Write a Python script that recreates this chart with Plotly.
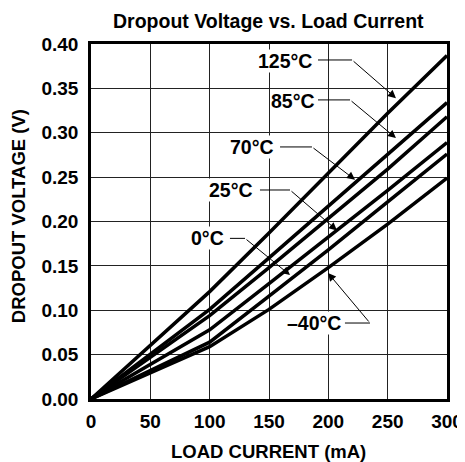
import plotly.graph_objects as go

load_current = [0, 100, 150, 200, 250, 300]
temps = ["125°C", "85°C", "70°C", "25°C", "0°C", "–40°C"]
v_125 = [0, 0.121, 0.187, 0.254, 0.322, 0.387]
v_85 = [0, 0.101, 0.159, 0.217, 0.275, 0.334]
v_70 = [0, 0.094, 0.148, 0.203, 0.259, 0.318]
v_25 = [0, 0.078, 0.130, 0.182, 0.235, 0.289]
v_0 = [0, 0.064, 0.116, 0.168, 0.222, 0.276]
v_m40 = [0, 0.059, 0.101, 0.148, 0.197, 0.249]
series = [v_125, v_85, v_70, v_25, v_0, v_m40]

x_ticks = [0, 50, 100, 150, 200, 250, 300]
y_ticks = [0.00, 0.05, 0.10, 0.15, 0.20, 0.25, 0.30, 0.35, 0.40]

# label positions (data coords): text centre, leader start, elbow, arrow tip
label_text_xy = [(163.5, 0.381), (170, 0.336), (136, 0.284), (118, 0.2355), (98.2, 0.181), (187.5, 0.0856)]
leader_pts = [
    [(191.3, 0.382), (220, 0.382), (257, 0.339)],
    [(191.3, 0.337), (218.3, 0.337), (257, 0.294)],
    [(159.3, 0.284), (186.2, 0.284), (222.5, 0.247)],
    [(142.4, 0.2355), (167.7, 0.2355), (207.3, 0.190)],
    [(117.1, 0.181), (129.8, 0.181), (167.7, 0.1397)],
    [(214, 0.0856), (235.1, 0.0856), (199.7, 0.142)],
]

FONT = "Liberation Sans, Arial, sans-serif"
def bold(size):
    return dict(family=FONT, size=size, color="black", weight="bold")

fig = go.Figure()
for name, vals in zip(temps, series):
    fig.add_trace(go.Scatter(x=load_current, y=vals, mode="lines", name=name,
                             line=dict(color="black", width=3.5), showlegend=False,
                             hoverinfo="skip"))

for (tx, ty), pts, txt in zip(label_text_xy, leader_pts, temps):
    fig.add_annotation(x=tx, y=ty, text=txt, showarrow=False, xref="x", yref="y",
                       font=bold(19.5), bgcolor="white", borderpad=0)
    (x0, y0), (x1, y1), (x2, y2) = pts
    fig.add_shape(type="line", x0=x0, y0=y0, x1=x1, y1=y1, xref="x", yref="y",
                  line=dict(color="black", width=1))
    fig.add_annotation(x=x2, y=y2, ax=x1, ay=y1, axref="x", ayref="y", xref="x", yref="y",
                       text="", showarrow=True, arrowhead=2, arrowsize=1.6,
                       arrowwidth=1, arrowcolor="black", standoff=0)

# titles
fig.add_annotation(text="Dropout Voltage vs. Load Current", xref="paper", yref="paper",
                   x=0.4986, y=1.065, showarrow=False, font=bold(19.5),
                   xanchor="center", yanchor="middle")
fig.add_annotation(text="LOAD CURRENT (mA)", xref="paper", yref="paper",
                   x=0.4986, y=-0.148, showarrow=False, font=bold(18.5),
                   xanchor="center", yanchor="middle")
fig.add_annotation(text="DROPOUT VOLTAGE (V)", xref="paper", yref="paper",
                   x=-0.205, y=0.515, showarrow=False, font=bold(18.5), textangle=-90,
                   xanchor="center", yanchor="middle", borderpad=0)

fig.update_layout(
    width=465, height=462,
    margin=dict(l=83, r=26, t=36, b=71, autoexpand=False),
    paper_bgcolor="white", plot_bgcolor="white",
    font=bold(18),
)
fig.update_xaxes(range=[0, 300], tickvals=x_ticks, ticktext=[str(v) for v in x_ticks],
                 showgrid=True, gridcolor="#222", gridwidth=1, zeroline=False,
                 showline=True, linecolor="black", linewidth=2.5, mirror=True,
                 ticks="", ticklabelstandoff=3, automargin=False,
                 tickfont=bold(19))
fig.update_yaxes(range=[0, 0.40], tickvals=y_ticks, ticktext=[f"{v:.2f}" for v in y_ticks],
                 showgrid=True, gridcolor="#222", gridwidth=1, zeroline=False,
                 showline=True, linecolor="black", linewidth=2.5, mirror=True,
                 ticks="", ticklabelstandoff=6, automargin=False,
                 tickfont=bold(19))

fig.write_html("out.html")
